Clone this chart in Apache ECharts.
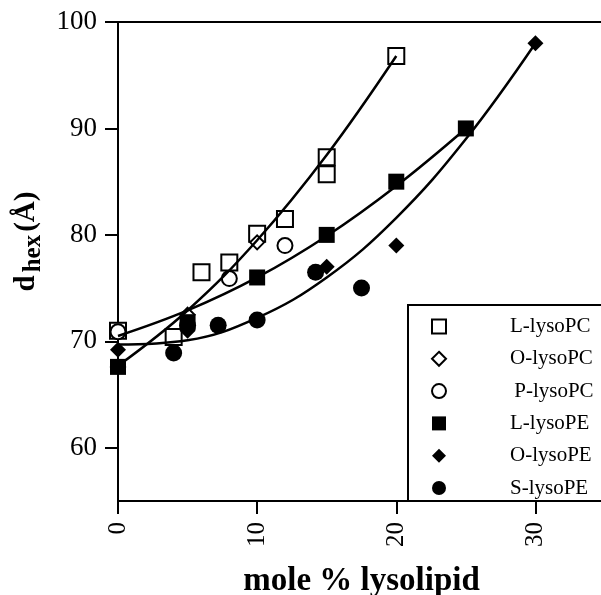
<!DOCTYPE html>
<html>
<head>
<meta charset="utf-8">
<script src="https://cdn.jsdelivr.net/npm/echarts@6/dist/echarts.min.js"></script>
<style>html,body{margin:0;padding:0;background:#fff;}#c{width:601px;height:595px;}</style>
</head>
<body>
<div id="c"></div>
<script>
// ---- data ----
const xTicks = [0, 10, 20, 30];
const yTicks = [60, 70, 80, 90, 100];

const L_lysoPC = [[0,71.0],[4,70.4],[6,76.5],[8,77.4],[10,80.1],[12,81.5],[15,85.7],[15,87.3],[20,96.8]];
const O_lysoPC = [[0,67.6],[5,72.5],[10,79.3]];
const P_lysoPC = [[0,70.9],[8,75.9],[12,79.0]];
const L_lysoPE = [[0,67.6],[5,71.8],[10,76.0],[15,80.0],[20,85.0],[25,90.0]];
const O_lysoPE = [[0,69.2],[5,71.0],[15,77.0],[20,79.0],[30,98.0]];
const S_lysoPE = [[4,68.9],[5,71.5],[7.2,71.5],[10,72.0],[14.2,76.5],[17.5,75.0]];

// fitted curves
const fitPC = [[0,67.7],[5,72.9],[10,79.5],[15,87.5],[20,96.8]];
const fitLPE = [[0,70.5],[5,72.9],[10,76.0],[15,79.9],[20,84.6],[25,90.0]];
const fitSPE = [[0,69.7],[5,70.1],[10,72.2],[15,76.0],[20,81.6],[25,89.0],[30,98.0]];

const names = ['L-lysoPC','O-lysoPC','P-lysoPC','L-lysoPE','O-lysoPE','S-lysoPE'];

const serif = '"Liberation Serif","DejaVu Serif",serif';
const chart = echarts.init(document.getElementById('c'), null, {renderer:'canvas'});

function scatter(name, data, symbol, size, open) {
  return {
    name, type:'scatter', data, symbol, symbolSize: size, z: 3,
    itemStyle: open ? {color:'#fff', borderColor:'#000', borderWidth:2, opacity:1}
                    : {color:'#000', borderColor:'#000', borderWidth:0, opacity:1},
    emphasis:{disabled:true}
  };
}
function curve(data) {
  return {type:'line', data, smooth:0.4, symbol:'none', z:5, silent:true,
    lineStyle:{color:'#000', width:2.5}};
}

chart.setOption({
  animation:false,
  backgroundColor:'#fff',
  grid:{left:118, top:22, width:487, height:479, show:true, borderColor:'#000', borderWidth:2,
        containLabel:false, outerBoundsMode:'none'},
  xAxis:{
    type:'value', min:0, max:35, interval:10,
    name:'mole % lysolipid', nameLocation:'middle', nameGap:64,
    nameTextStyle:{fontFamily:serif, fontSize:33, fontWeight:'bold', color:'#000'},
    axisLine:{show:true, onZero:false, lineStyle:{color:'#000', width:2}},
    axisTick:{show:true, length:13, lineStyle:{color:'#000', width:2}, customValues:xTicks},
    axisLabel:{rotate:90, margin:21, fontFamily:serif, fontSize:25, color:'#000', customValues:xTicks},
    splitLine:{show:false}
  },
  yAxis:{
    type:'value', min:55, max:100, interval:5,
    name:'{a|d} {b|hex} {a|(Å)}', nameLocation:'middle', nameRotate:90, nameGap:70,
    nameTextStyle:{fontFamily:serif, color:'#000', padding:[0,0,0,40],
      rich:{a:{fontFamily:serif, fontSize:29, fontWeight:'bold', color:'#000'},
            b:{fontFamily:serif, fontSize:25, fontWeight:'bold', color:'#000', padding:[14,0,0,0]}}},
    axisLine:{show:true, onZero:false, lineStyle:{color:'#000', width:2}},
    axisTick:{show:true, length:13, lineStyle:{color:'#000', width:2}, customValues:yTicks},
    axisLabel:{margin:21, fontFamily:serif, fontSize:27, color:'#000', customValues:yTicks},
    splitLine:{show:false}
  },
  legend:{
    data:names, orient:'vertical', left:426, top:311, itemGap:11.3,
    itemWidth:14, itemHeight:14,
    textStyle:{fontFamily:serif, fontSize:21, color:'#000', lineHeight:20, padding:[0,0,0,59]},
    formatter: n => n === 'P-lysoPC' ? '\u2009P-lysoPC' : n,
    selectedMode:false
  },
  graphic:[{type:'rect', shape:{x:408, y:305, width:200, height:196}, style:{fill:'none', stroke:'#000', lineWidth:2}, z:10, silent:true}],
  series:[
    scatter(names[0], L_lysoPC, 'rect', 16, true),
    scatter(names[1], O_lysoPC, 'diamond', 14, true),
    scatter(names[2], P_lysoPC, 'circle', 15, true),
    scatter(names[3], L_lysoPE, 'rect', 16, false),
    scatter(names[4], O_lysoPE, 'diamond', 16, false),
    scatter(names[5], S_lysoPE, 'circle', 17, false),
    curve(fitPC), curve(fitLPE), curve(fitSPE)
  ]
});
</script>
</body>
</html>
